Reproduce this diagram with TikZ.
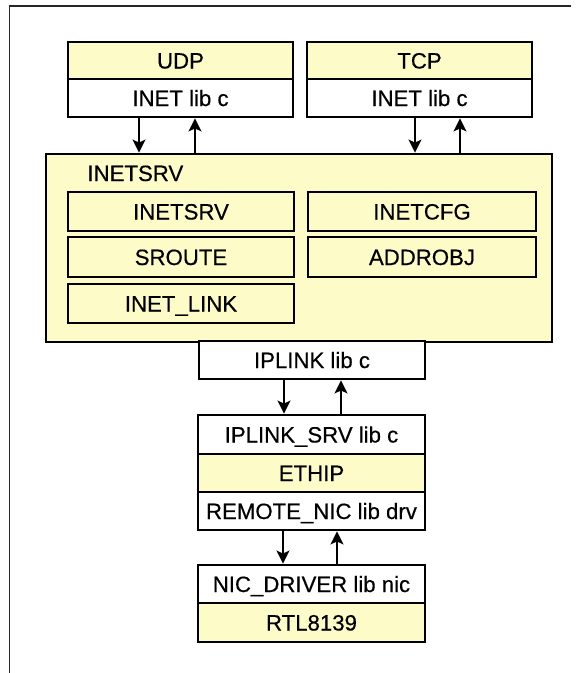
\documentclass[tikz,border=0pt]{standalone}
\usepackage{fontspec}
\setmainfont{Liberation Sans}
\newfontfamily\boxfont{Liberation Sans}[FakeBold=0.4]
\usetikzlibrary{arrows.meta}
\definecolor{boxyellow}{RGB}{253,251,200}
\tikzset{
  sec/.style={draw=black, line width=2.9pt, inner sep=0pt, text height=16pt, text depth=0pt,
    font=\boxfont\fontsize{22.2}{25}\selectfont, text=black},
  ysec/.style={sec, fill=boxyellow},
  wsec/.style={sec, fill=white},
  arr/.style={line width=1.5pt, -{Stealth[length=13pt,width=13pt,inset=3pt]}},
  frameline/.style={line width=1.8pt, draw=black!85}
}
\begin{document}
\begin{tikzpicture}[x=1pt,y=-1pt]
  \useasboundingbox (0,0) rectangle (579,673);
  % page frame: top and left rules
  \coordinate (fcorner) at (9.5,6);
  \coordinate (fright) at (570.5,6);
  \coordinate (fbottom) at (9.5,673);
  \draw[frameline] (fright) -- (fcorner) -- (fbottom);

  % UDP stack
  \node[ysec, minimum width=225pt, minimum height=37pt] (udp) at (180.5,60.5) {UDP};
  \node[wsec, minimum width=225pt, minimum height=38pt] (udplib) at (180.5,98) {INET lib c};
  % TCP stack
  \node[ysec, minimum width=225pt, minimum height=37pt] (tcp) at (419.5,60.5) {TCP};
  \node[wsec, minimum width=225pt, minimum height=38pt] (tcplib) at (419.5,98) {INET lib c};

  % INETSRV server with its modules
  \node[ysec, minimum width=506pt, minimum height=188pt] (inetsrv) at (299,248) {};
  \node[sec, draw=none, anchor=west] (inetsrvtitle) at (86,173) {INETSRV};
  \node[ysec, minimum width=226pt, minimum height=39pt] (inetsrvmod) at (181,211.5) {INETSRV};
  \node[ysec, minimum width=228pt, minimum height=39pt] (inetcfg) at (422,211.5) {INETCFG};
  \node[ysec, minimum width=226pt, minimum height=40pt] (sroute) at (181,257) {SROUTE};
  \node[ysec, minimum width=228pt, minimum height=40pt] (addrobj) at (422,257) {ADDROBJ};
  \node[ysec, minimum width=226pt, minimum height=39pt] (inetlink) at (181,303.5) {INET\_LINK};

  % IP link library
  \node[wsec, minimum width=226pt, minimum height=38pt] (iplink) at (312,360) {IPLINK lib c};

  % Ethernet IP stack
  \node[wsec, minimum width=227pt, minimum height=39pt] (iplinksrv) at (311.5,434.5) {IPLINK\_SRV lib c};
  \node[ysec, minimum width=227pt, minimum height=38pt] (ethip) at (311.5,473) {ETHIP};
  \node[wsec, minimum width=227pt, minimum height=38pt] (remotenic) at (311.5,511) {REMOTE\_NIC lib drv};

  % NIC driver stack
  \node[wsec, minimum width=227pt, minimum height=38pt] (nicdrv) at (311.5,584) {NIC\_DRIVER lib nic};
  \node[ysec, minimum width=227pt, minimum height=39pt] (rtl) at (311.5,622.5) {RTL8139};

  % calls down and replies up
  \draw[arr] ([xshift=-41.5pt]udplib.south) -- ([xshift=-41.5pt]udplib.south |- inetsrv.north);
  \draw[arr] ([xshift=14.5pt]udplib.south |- inetsrv.north) -- ([xshift=14.5pt]udplib.south);
  \draw[arr] ([xshift=-4.5pt]tcplib.south) -- ([xshift=-4.5pt]tcplib.south |- inetsrv.north);
  \draw[arr] ([xshift=40.5pt]tcplib.south |- inetsrv.north) -- ([xshift=40.5pt]tcplib.south);
  \draw[arr] ([xshift=-28pt]iplink.south) -- ([xshift=-28pt]iplink.south |- iplinksrv.north);
  \draw[arr] ([xshift=29pt]iplink.south |- iplinksrv.north) -- ([xshift=29pt]iplink.south);
  \draw[arr] ([xshift=-28.5pt]remotenic.south) -- ([xshift=-28.5pt]remotenic.south |- nicdrv.north);
  \draw[arr] ([xshift=25.5pt]remotenic.south |- nicdrv.north) -- ([xshift=25.5pt]remotenic.south);
\end{tikzpicture}
\end{document}
